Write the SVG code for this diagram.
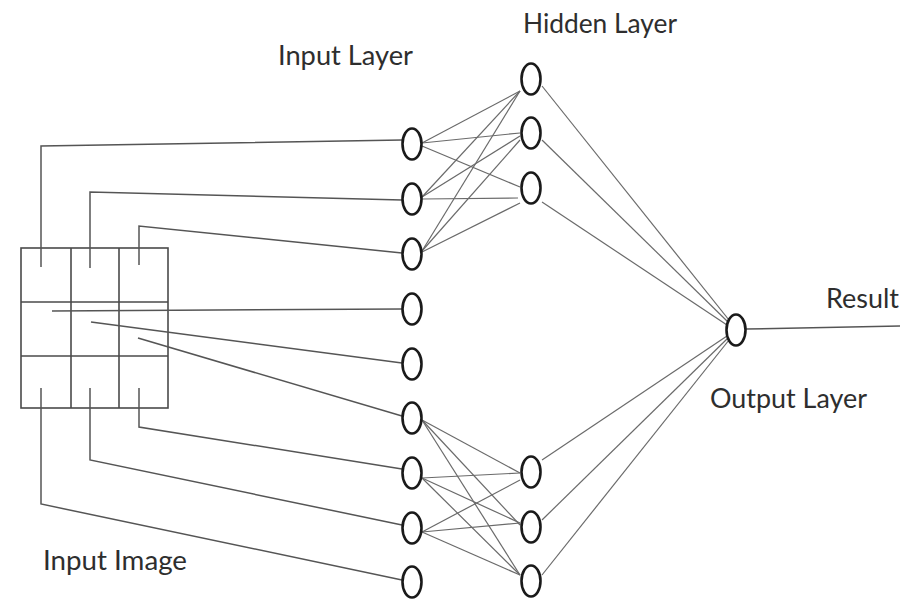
<svg xmlns="http://www.w3.org/2000/svg" width="900" height="602" viewBox="0 0 900 602">
  <style>
    .bg { fill: #ffffff; }
    .node { fill: #ffffff; stroke: #1a1a1a; stroke-width: 2.6; }
    .grid { fill: none; stroke: #4a4a4a; stroke-width: 1.6; }
    .wire { fill: none; stroke: #555555; stroke-width: 1.5; }
    .edge { fill: none; stroke: #6a6a6a; stroke-width: 1.2; }
    .label { font-family: Lato, "Open Sans", sans-serif; font-size: 26px; fill: #2e2e2e; }
  </style>
  <rect class="bg" x="0" y="0" width="900" height="602"/>

  <!-- 3x3 input image grid -->
  <g id="input-image">
    <rect class="grid" x="21" y="248" width="147" height="160"/>
    <line class="grid" x1="71" y1="248" x2="71" y2="408"/>
    <line class="grid" x1="119" y1="248" x2="119" y2="408"/>
    <line class="grid" x1="21" y1="302" x2="168" y2="302"/>
    <line class="grid" x1="21" y1="356" x2="168" y2="356"/>
  </g>

  <!-- connectors -->
  <g id="connectors">
    <!-- grid cells to input layer -->
    <polyline class="wire" points="41,267 41,146 402,140"/>
    <polyline class="wire" points="90,268 90,192 402,200"/>
    <polyline class="wire" points="139,265 139,226 402,253"/>
    <line class="wire" x1="52" y1="311" x2="402" y2="309"/>
    <line class="wire" x1="91" y1="322" x2="402" y2="363"/>
    <line class="wire" x1="138" y1="338" x2="402" y2="416"/>
    <polyline class="wire" points="139,388 139,427 402,469"/>
    <polyline class="wire" points="90,388 90,460 402,525"/>
    <polyline class="wire" points="41,388 41,504 402,580"/>

    <!-- input layer (top) to hidden layer (top) -->
    <line class="edge" x1="422" y1="143" x2="520" y2="91"/>
    <line class="edge" x1="422" y1="143" x2="520" y2="133"/>
    <line class="edge" x1="422" y1="146" x2="520" y2="187"/>
    <line class="edge" x1="422" y1="197" x2="520" y2="91"/>
    <line class="edge" x1="422" y1="197" x2="520" y2="136"/>
    <line class="edge" x1="422" y1="199" x2="518" y2="198"/>
    <line class="edge" x1="422" y1="251" x2="520" y2="91"/>
    <line class="edge" x1="422" y1="251" x2="520" y2="140"/>
    <line class="edge" x1="422" y1="252" x2="520" y2="203"/>

    <!-- hidden layer (top) to output -->
    <line class="edge" x1="542" y1="86" x2="729" y2="320"/>
    <line class="edge" x1="542" y1="140" x2="728" y2="322"/>
    <line class="edge" x1="542" y1="202" x2="727" y2="325"/>

    <!-- input layer (bottom) to hidden layer (bottom) -->
    <line class="edge" x1="422" y1="420" x2="520" y2="473"/>
    <line class="edge" x1="422" y1="420" x2="520" y2="525"/>
    <line class="edge" x1="422" y1="420" x2="520" y2="575"/>
    <line class="edge" x1="422" y1="478" x2="520" y2="473"/>
    <line class="edge" x1="422" y1="478" x2="520" y2="523"/>
    <line class="edge" x1="422" y1="478" x2="520" y2="575"/>
    <line class="edge" x1="422" y1="532" x2="520" y2="480"/>
    <line class="edge" x1="422" y1="532" x2="520" y2="523"/>
    <line class="edge" x1="422" y1="532" x2="520" y2="575"/>

    <!-- hidden layer (bottom) to output -->
    <line class="edge" x1="542" y1="460" x2="727" y2="336"/>
    <line class="edge" x1="542" y1="520" x2="728" y2="338"/>
    <line class="edge" x1="542" y1="575" x2="729" y2="340"/>

    <!-- output to result -->
    <line class="wire" x1="746" y1="329" x2="900" y2="326"/>
  </g>

  <!-- input layer -->
  <g id="input-1"><ellipse class="node" cx="412" cy="144" rx="9.5" ry="15.5"/></g>
  <g id="input-2"><ellipse class="node" cx="412" cy="199" rx="9.5" ry="15.5"/></g>
  <g id="input-3"><ellipse class="node" cx="412" cy="254" rx="9.5" ry="15.5"/></g>
  <g id="input-4"><ellipse class="node" cx="412" cy="309" rx="9.5" ry="15.5"/></g>
  <g id="input-5"><ellipse class="node" cx="412" cy="364" rx="9.5" ry="15.5"/></g>
  <g id="input-6"><ellipse class="node" cx="412" cy="418" rx="9.5" ry="15.5"/></g>
  <g id="input-7"><ellipse class="node" cx="412" cy="473" rx="9.5" ry="15.5"/></g>
  <g id="input-8"><ellipse class="node" cx="412" cy="528" rx="9.5" ry="15.5"/></g>
  <g id="input-9"><ellipse class="node" cx="412" cy="582" rx="9.5" ry="15.5"/></g>

  <!-- hidden layer -->
  <g id="hidden-1"><ellipse class="node" cx="531" cy="79" rx="9.5" ry="15.5"/></g>
  <g id="hidden-2"><ellipse class="node" cx="531" cy="133" rx="9.5" ry="15.5"/></g>
  <g id="hidden-3"><ellipse class="node" cx="531" cy="188" rx="9.5" ry="15.5"/></g>
  <g id="hidden-4"><ellipse class="node" cx="531" cy="472" rx="9.5" ry="15.5"/></g>
  <g id="hidden-5"><ellipse class="node" cx="531" cy="527" rx="9.5" ry="15.5"/></g>
  <g id="hidden-6"><ellipse class="node" cx="531" cy="581" rx="9.5" ry="15.5"/></g>

  <!-- output layer -->
  <g id="output"><ellipse class="node" cx="736" cy="330" rx="9.5" ry="15.5"/></g>

  <!-- labels -->
  <g id="labels">
    <text class="label" x="278" y="65" textLength="135" lengthAdjust="spacingAndGlyphs">Input Layer</text>
    <text class="label" x="523" y="33" textLength="154" lengthAdjust="spacingAndGlyphs">Hidden Layer</text>
    <text class="label" x="826" y="308" textLength="73" lengthAdjust="spacingAndGlyphs">Result</text>
    <text class="label" x="710" y="408" textLength="157" lengthAdjust="spacingAndGlyphs">Output Layer</text>
    <text class="label" x="43" y="570" textLength="144" lengthAdjust="spacingAndGlyphs">Input Image</text>
  </g>
</svg>
